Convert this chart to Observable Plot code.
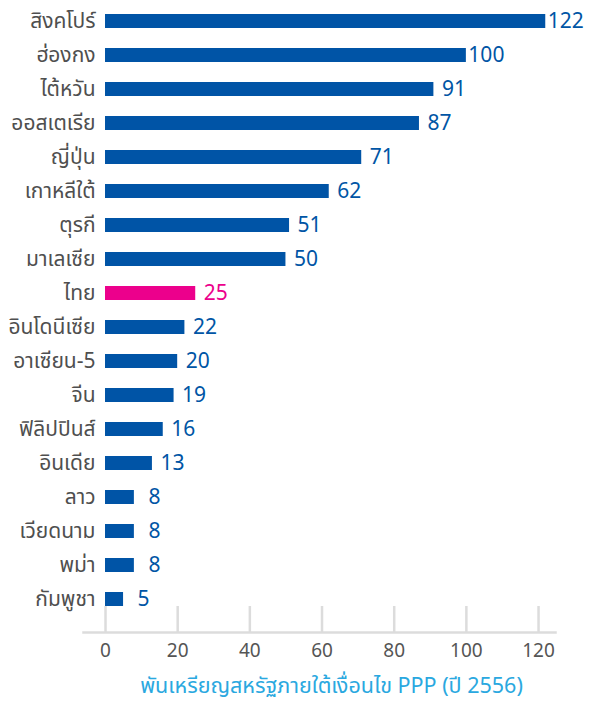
<!DOCTYPE html>
<html>
<head>
<meta charset="utf-8">
<script src="https://cdn.jsdelivr.net/npm/d3@7"></script>
<script src="https://cdn.jsdelivr.net/npm/@observablehq/plot@0.6"></script>
<style>
  body { margin: 0; background: #fff; }
  #chart { width: 600px; }
</style>
</head>
<body>
<div id="chart"></div>
<script>
const countries = ["สิงคโปร์","ฮ่องกง","ไต้หวัน","ออสเตเรีย","ญี่ปุ่น","เกาหลีใต้","ตุรกี","มาเลเซีย","ไทย","อินโดนีเซีย","อาเซียน-5","จีน","ฟิลิปปินส์","อินเดีย","ลาว","เวียดนาม","พม่า","กัมพูชา"];
const values = [122,100,91,87,71,62,51,50,25,22,20,19,16,13,8,8,8,5];
const highlight = "ไทย";
const xTicks = [0,20,40,60,80,100,120];
const axisTitle = "พันเหรียญสหรัฐภายใต้เงื่อนไข PPP (ปี 2556)";

const rows = countries.map((c, i) => ({country: c, value: values[i]}));
const FONT = "'Noto Sans Thai', 'Noto Sans', 'DejaVu Sans', sans-serif";

const chart = Plot.plot({
  width: 600,
  height: 704,
  marginTop: 3,
  marginBottom: 72,
  insetBottom: 16,
  marginLeft: 83,
  marginRight: 45,
  style: {fontFamily: FONT, background: "#fff"},
  x: {domain: [-6.1, 124.7], axis: null, label: null},
  y: {domain: countries, axis: null, paddingInner: 0.59, paddingOuter: 0.295},
  marks: [
    Plot.gridX(xTicks, {insetTop: 603, stroke: "#dcdcdc", strokeOpacity: 1, strokeWidth: 2.5}),
    Plot.frame({anchor: "bottom", stroke: "#dcdcdc", strokeWidth: 2.5}),
    Plot.axisX(xTicks, {tickSize: 0, tickPadding: 11, fontSize: 19, fill: "#555", label: null, tickFormat: d => d}),
    Plot.barX(rows, {
      x1: 0, x2: "value", y: "country",
      fill: d => d.country === highlight ? "#ec008c" : "#0054a6"
    }),
    Plot.text(rows, {
      x: 0, y: "country", text: "country", textAnchor: "end", dx: -10,
      fontSize: 21, fill: "#4f4f4f"
    }),
    Plot.text(rows, {
      x: "value", y: "country", text: d => String(d.value), textAnchor: "middle", dx: 20,
      fontSize: 21, fill: d => d.country === highlight ? "#ec008c" : "#0055a5"
    }),
    Plot.text([axisTitle], {
      frameAnchor: "bottom", text: d => d, dx: 12, dy: 54, lineAnchor: "middle",
      fontSize: 21.5, fill: "#2aa8e0"
    })
  ]
});
document.getElementById("chart").appendChild(chart);
</script>
</body>
</html>
